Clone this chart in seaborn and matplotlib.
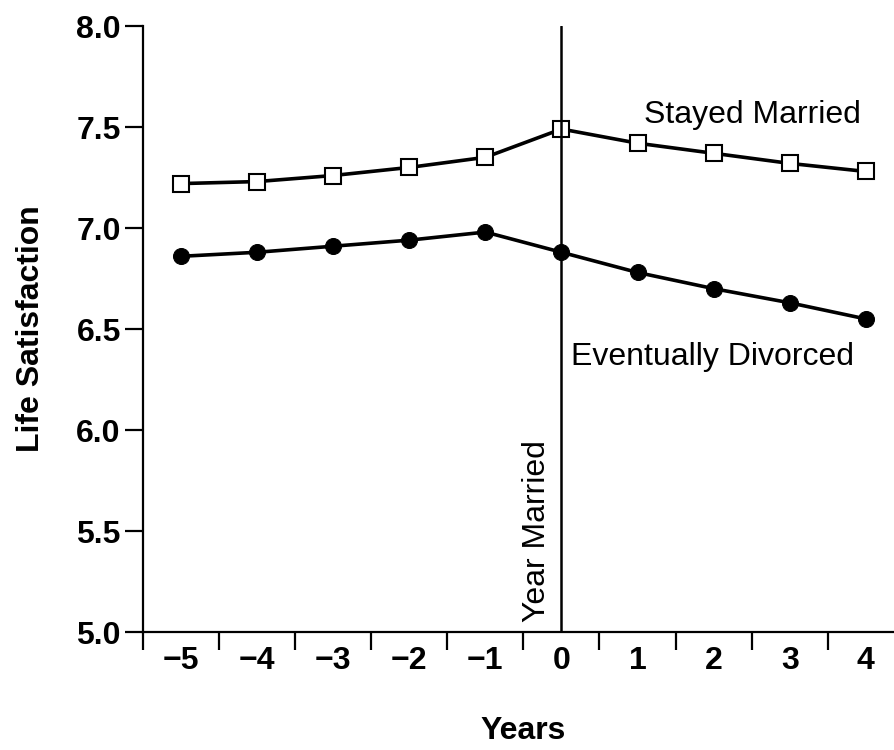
import numpy as np
import pandas as pd
import matplotlib
matplotlib.use('Agg')
import matplotlib.pyplot as plt
import seaborn as sns

# data
years = [-5, -4, -3, -2, -1, 0, 1, 2, 3, 4]
stayed_married = [7.22, 7.23, 7.26, 7.30, 7.35, 7.49, 7.42, 7.37, 7.32, 7.28]
eventually_divorced = [6.86, 6.88, 6.91, 6.94, 6.98, 6.88, 6.78, 6.70, 6.63, 6.55]
y_ticks = [5.0, 5.5, 6.0, 6.5, 7.0, 7.5, 8.0]

df = pd.DataFrame({'Years': years,
                   'Stayed': stayed_married,
                   'Divorced': eventually_divorced})

sns.set_style('ticks')
plt.rcParams['font.family'] = ['Liberation Sans', 'DejaVu Sans']
plt.rcParams['text.color'] = 'black'
plt.rcParams['axes.labelcolor'] = 'black'
plt.rcParams['xtick.color'] = 'black'
plt.rcParams['ytick.color'] = 'black'

fig = plt.figure(figsize=(8.95, 7.5), dpi=100)
ax = fig.add_axes([0.1598, 0.1573, 0.850, 0.808])

sns.lineplot(data=df, x='Years', y='Stayed', ax=ax, color='black', lw=2.6,
             marker='s', markersize=11, markerfacecolor='white',
             markeredgecolor='black', markeredgewidth=1.5)
sns.lineplot(data=df, x='Years', y='Divorced', ax=ax, color='black', lw=2.6,
             marker='o', markersize=11.5, markerfacecolor='black',
             markeredgecolor='black')

# year married line
ax.axvline(0, color='black', lw=1.8)

ax.set_xlim(-5.5, 4.5)
ax.set_ylim(5.0, 8.0)
ax.set_yticks(y_ticks)
ax.set_yticklabels([f'{v:.1f}' for v in y_ticks])
ax.set_xticks(years)
ax.set_xticklabels([str(y).replace('-', '\u2212') for y in years])
ax.set_xticks(np.arange(-5.5, 4.0, 1.0), minor=True)

ax.tick_params(axis='x', which='major', length=0, pad=10)
ax.tick_params(axis='x', which='minor', length=13, width=1.6, direction='out')
ax.tick_params(axis='y', length=13, width=1.6, direction='out', pad=3)
for lab in ax.get_xticklabels() + ax.get_yticklabels():
    lab.set_fontsize(23)
    lab.set_fontweight('bold')

for s in ['top', 'right']:
    ax.spines[s].set_visible(False)
for s in ['left', 'bottom']:
    ax.spines[s].set_linewidth(1.6)
    ax.spines[s].set_color('black')

ax.set_xlabel('Years', fontsize=23, fontweight='bold', labelpad=29)
ax.set_ylabel('Life Satisfaction', fontsize=23, fontweight='bold', labelpad=22)

ax.text(1.08, 7.56, 'Stayed Married', fontsize=23, va='center', ha='left')
ax.text(0.12, 6.36, 'Eventually Divorced', fontsize=23, va='center', ha='left')
ax.text(-0.32, 5.05, 'Year Married', fontsize=23, rotation=90,
        va='bottom', ha='center')

fig.savefig('out.png', dpi=100)
